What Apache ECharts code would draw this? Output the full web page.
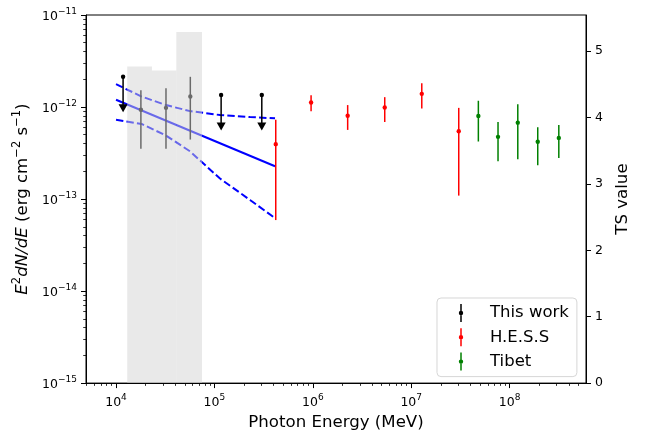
<!DOCTYPE html>
<html><head><meta charset="utf-8">
<script src="https://cdn.jsdelivr.net/npm/echarts@6/dist/echarts.min.js"></script>
<style>html,body{margin:0;padding:0;background:#fff}#c{width:645px;height:436px}</style>
</head><body><div id="c"></div>
<script>
// ---- data ----
const xMin = 4955, xMax = 5.97e8;
const yMin = 1e-15, yMax = 1e-11;
const tsMax = 5.545;
const xMajor = [1e4, 1e5, 1e6, 1e7, 1e8];
const yMajor = [1e-15, 1e-14, 1e-13, 1e-12, 1e-11];
const tsTicks = [0, 1, 2, 3, 4, 5];

// TS bins (right axis)
const binLo = [1.30e4, 2.32e4, 4.10e4];
const binHi = [2.32e4, 4.10e4, 7.48e4];
const tsValues = [4.77, 4.71, 5.29];

// This work: detected points
const detE = [1.79e4, 3.22e4, 5.69e4];
const detF = [9.33e-13, 9.8e-13, 1.30e-12];
const detLo = [3.52e-13, 3.52e-13, 4.43e-13];
const detHi = [1.52e-12, 1.60e-12, 2.13e-12];

// This work: upper limits
const ulE = [1.18e4, 1.17e5, 3.03e5];
const ulF = [2.13e-12, 1.35e-12, 1.35e-12];
const ulTip = [8.75e-13, 5.55e-13, 5.55e-13];

// Power-law fit and band
const fitE = [1.0e4, 4.13e5];
const fitF = [1.20e-12, 2.27e-13];
const bandE = [1.0e4, 1.82e4, 3.22e4, 5.65e4, 1.14e5, 2.30e5, 4.13e5];
const bandUp = [1.77e-12, 1.30e-12, 1.05e-12, 9.03e-13, 8.18e-13, 7.78e-13, 7.53e-13];
const bandLow = [7.28e-13, 6.55e-13, 4.90e-13, 3.30e-13, 1.67e-13, 9.77e-14, 6.21e-14];

// H.E.S.S
const hessE = [4.2e5, 9.6e5, 2.26e6, 5.38e6, 1.28e7, 3.04e7];
const hessF = [3.95e-13, 1.12e-12, 8.03e-13, 9.9e-13, 1.39e-12, 5.46e-13];
const hessLo = [5.91e-14, 8.97e-13, 5.64e-13, 6.87e-13, 9.66e-13, 1.09e-13];
const hessHi = [7.28e-13, 1.34e-12, 1.05e-12, 1.28e-12, 1.81e-12, 9.79e-13];

// Tibet
const tibE = [4.81e7, 7.62e7, 1.21e8, 1.93e8, 3.16e8];
const tibF = [7.98e-13, 4.74e-13, 6.76e-13, 4.19e-13, 4.62e-13];
const tibLo = [4.22e-13, 2.57e-13, 2.70e-13, 2.33e-13, 2.80e-13];
const tibHi = [1.17e-12, 6.87e-13, 1.07e-12, 6.03e-13, 6.38e-13];

const legendNames = ['This work', 'H.E.S.S', 'Tibet'];

// ---- helpers ----
function minors(lo, hi, fromExp, toExp) {
  const out = [];
  for (let e = fromExp; e <= toExp; e++) for (let m = 2; m <= 9; m++) {
    const v = m * Math.pow(10, e);
    if (v > lo && v < hi) out.push(v);
  }
  return out;
}
const xMinor = minors(xMin, xMax, 3, 8);
const yMinor = minors(yMin, yMax, -15, -12);
function expLabel(v) {
  const e = Math.round(Math.log10(v));
  return '{b|10}{e|' + String(e).replace('-', '\u2212') + '}';
}
const FONT = 'DejaVu Sans';
const labelRich = {
  b: {fontSize: 12.5, fontFamily: FONT, color: '#000', verticalAlign: 'bottom'},
  e: {fontSize: 9, fontFamily: FONT, color: '#000', verticalAlign: 'bottom', padding: [0, 0, 7, 0]}
};
const zip = (...arrs) => arrs[0].map((_, i) => arrs.map(a => a[i]));

function errRender(color) {
  return function (params, api) {
    const p = api.coord([api.value(0), api.value(1)]);
    const lo = api.coord([api.value(0), api.value(2)]);
    const hi = api.coord([api.value(0), api.value(3)]);
    return {type: 'group', children: [
      {type: 'line', shape: {x1: p[0], y1: lo[1], x2: p[0], y2: hi[1]}, style: {stroke: color, lineWidth: 1.5}},
      {type: 'circle', shape: {cx: p[0], cy: p[1], r: 2.2}, style: {fill: color}}
    ]};
  };
}
function ulRender(params, api) {
  const p = api.coord([api.value(0), api.value(1)]);
  const t = api.coord([api.value(0), api.value(2)]);
  const hh = 8, hw = 4.5;
  return {type: 'group', children: [
    {type: 'line', shape: {x1: p[0], y1: p[1], x2: p[0], y2: t[1] - hh + 1}, style: {stroke: '#000', lineWidth: 1.5}},
    {type: 'polygon', shape: {points: [[p[0] - hw, t[1] - hh], [p[0] + hw, t[1] - hh], [p[0], t[1]]]}, style: {fill: '#000'}},
    {type: 'circle', shape: {cx: p[0], cy: p[1], r: 2.2}, style: {fill: '#000'}}
  ]};
}
function barRender(params, api) {
  const a = api.coord([api.value(0), api.value(2)]);
  const b = api.coord([api.value(1), 0]);
  return {type: 'rect', shape: {x: a[0], y: a[1], width: b[0] - a[0], height: b[1] - a[1]},
    style: {fill: 'rgba(211,211,211,0.5)'}};
}
const legendIcon = 'path://M0,9L0.01,9L0,9.01Z M48,9L47.99,9L48,9.01Z M23.25,0L24.75,0L24.75,18L23.25,18Z M24,6.8A2.2,2.2 0 1,1 23.99,6.8Z';

const axisLineStyle = {show: true, lineStyle: {color: '#000', width: 1}};
const option = {
  animation: false,
  grid: {left: 86, right: 59, top: 15, bottom: 50, show: true, borderColor: '#000', borderWidth: 1, backgroundColor: 'transparent'},
  legend: {
    orient: 'vertical', left: 437, top: 298,
    data: legendNames.map(n => ({name: n, icon: legendIcon})),
    itemWidth: 48, itemHeight: 18, itemGap: 6.3,
    padding: [6, 8, 6, 0],
    borderColor: 'rgba(204,204,204,0.8)', borderWidth: 1, borderRadius: 4,
    backgroundColor: 'rgba(255,255,255,0.8)',
    itemStyle: {borderWidth: 0},
    textStyle: {fontFamily: FONT, fontSize: 16.5, color: '#000'},
    selectedMode: false
  },
  xAxis: [
    {type: 'log', logBase: 10, min: xMin, max: xMax, position: 'bottom',
      axisLine: axisLineStyle, splitLine: {show: false},
      axisTick: {show: true, inside: false, length: 5, customValues: xMajor, lineStyle: {color: '#000', width: 1}},
      axisLabel: {customValues: xMajor, formatter: expLabel, rich: labelRich, margin: 10},
      name: 'Photon Energy (MeV)', nameLocation: 'middle', nameGap: 29,
      nameTextStyle: {fontFamily: FONT, fontSize: 16.6, color: '#000'}},
    {type: 'log', logBase: 10, min: xMin, max: xMax, position: 'bottom',
      axisLine: {show: false}, splitLine: {show: false},
      axisTick: {show: true, inside: false, length: 2.8, customValues: xMinor, lineStyle: {color: '#000', width: 0.8}},
      axisLabel: {show: false}}
  ],
  yAxis: [
    {type: 'log', logBase: 10, min: yMin, max: yMax, position: 'left',
      axisLine: axisLineStyle, splitLine: {show: false},
      axisTick: {show: true, inside: false, length: 5, customValues: yMajor, lineStyle: {color: '#000', width: 1}},
      axisLabel: {customValues: yMajor, formatter: expLabel, rich: labelRich, margin: 9},
      name: '{i|E}{s|2}{i|dN/dE}{n| (erg cm}{s|\u22122}{n| s}{s|\u22121}{n|)}',
      nameLocation: 'middle', nameRotate: 90, nameGap: 46,
      nameTextStyle: {fontFamily: FONT, fontSize: 16.6, color: '#000', rich: {
        i: {fontFamily: FONT, fontSize: 16.6, fontStyle: 'italic', color: '#000', verticalAlign: 'bottom'},
        n: {fontFamily: FONT, fontSize: 16.6, color: '#000', verticalAlign: 'bottom'},
        s: {fontFamily: FONT, fontSize: 11.5, color: '#000', verticalAlign: 'bottom', padding: [0, 0, 8, 0]}
      }}},
    {type: 'value', min: 0, max: tsMax, position: 'right',
      axisLine: axisLineStyle, splitLine: {show: false},
      axisTick: {show: true, inside: false, length: 5, customValues: tsTicks, lineStyle: {color: '#000', width: 1}},
      axisLabel: {customValues: tsTicks, fontFamily: FONT, fontSize: 12.5, color: '#000', margin: 9},
      name: 'TS value', nameLocation: 'middle', nameRotate: 90, nameGap: 27,
      nameTextStyle: {fontFamily: FONT, fontSize: 16.6, color: '#000'}},
    {type: 'log', logBase: 10, min: yMin, max: yMax, position: 'left',
      axisLine: {show: false}, splitLine: {show: false},
      axisTick: {show: true, inside: false, length: 2.8, customValues: yMinor, lineStyle: {color: '#000', width: 0.8}},
      axisLabel: {show: false}}
  ],
  series: [
    {type: 'line', name: 'fit', data: zip(fitE, fitF), symbol: 'none', z: 2,
      lineStyle: {color: '#0000ff', width: 2}},
    {type: 'line', name: 'bandUp', data: zip(bandE, bandUp), symbol: 'none', z: 2,
      lineStyle: {color: '#0000ff', width: 2, type: [7.4, 3.2]}},
    {type: 'line', name: 'bandLow', data: zip(bandE, bandLow), symbol: 'none', z: 2,
      lineStyle: {color: '#0000ff', width: 2, type: [7.4, 3.2]}},
    {type: 'custom', name: 'This work', data: zip(detE, detF, detLo, detHi), renderItem: errRender('#000'),
      itemStyle: {color: '#000'}, z: 3},
    {type: 'custom', name: 'This work', data: zip(ulE, ulF, ulTip), renderItem: ulRender,
      itemStyle: {color: '#000'}, z: 3},
    {type: 'custom', name: 'H.E.S.S', data: zip(hessE, hessF, hessLo, hessHi), renderItem: errRender('#ff0000'),
      itemStyle: {color: '#ff0000'}, z: 3},
    {type: 'custom', name: 'Tibet', data: zip(tibE, tibF, tibLo, tibHi), renderItem: errRender('#008000'),
      itemStyle: {color: '#008000'}, z: 3},
    {type: 'custom', name: 'TS', yAxisIndex: 1, data: zip(binLo, binHi, tsValues), renderItem: barRender, z: 10, silent: true}
  ]
};
const chart = echarts.init(document.getElementById('c'), null, {renderer: 'canvas'});
chart.setOption(option);
</script></body></html>
